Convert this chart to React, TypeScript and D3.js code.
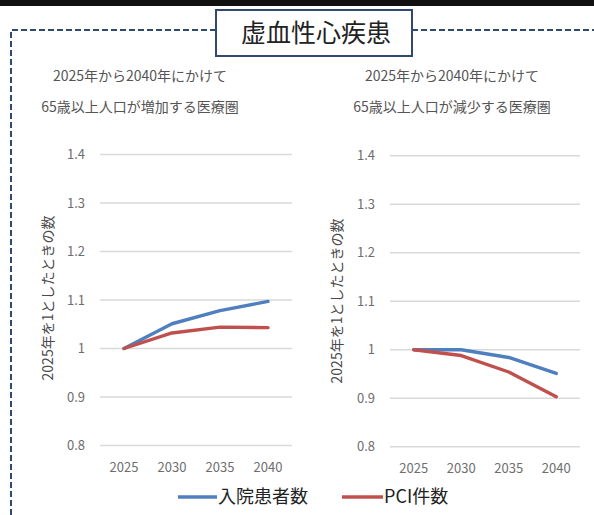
import React from "react";
import * as d3 from "d3";

const years = ["2025", "2030", "2035", "2040"];
const yTicks = [0.8, 0.9, 1.0, 1.1, 1.2, 1.3, 1.4];
const leftInpatients = [1.0, 1.051, 1.078, 1.097];
const leftPCI = [1.0, 1.032, 1.044, 1.043];
const rightInpatients = [1.0, 1.0, 0.984, 0.951];
const rightPCI = [1.0, 0.988, 0.954, 0.903];
const title = "虚血性心疾患";
const leftSubtitle = ["2025年から2040年にかけて", "65歳以上人口が増加する医療圏"];
const rightSubtitle = ["2025年から2040年にかけて", "65歳以上人口が減少する医療圏"];
const yAxisTitle = "2025年を1としたときの数";
const seriesNames = ["入院患者数", "PCI件数"];

const BLUE = "#4f7fbf";
const RED = "#c0504d";
const FONT = "'Noto Sans CJK JP', 'Noto Sans', sans-serif";

type PanelProps = {
  x0: number; x1: number; yTop: number; yBot: number;
  labelX: number; axisTitleX: number; axisTitleY: number; subCx: number;
  subtitle: string[]; a: number[]; b: number[];
};

function Panel({ x0, x1, yTop, yBot, labelX, axisTitleX, axisTitleY, subCx, subtitle, a, b }: PanelProps) {
  const x = d3.scaleBand<string>().domain(years).range([x0, x1]);
  const y = d3.scaleLinear().domain([0.8, 1.4]).range([yBot, yTop]);
  const line = d3
    .line<number>()
    .x((_, i) => (x(years[i]) as number) + x.bandwidth() / 2)
    .y((d) => y(d));
  return (
    <g>
      {subtitle.map((s, i) => (
        <text key={i} x={subCx} y={81 + i * 31} textAnchor="middle" fontSize={14} fill="#555" fontFamily={FONT}>
          {s}
        </text>
      ))}
      {yTicks.map((t) => (
        <g key={t}>
          <line x1={x0} x2={x1} y1={y(t)} y2={y(t)} stroke="#d9d9d9" strokeWidth={1.6} />
          <text x={labelX} y={y(t)} dy="0.35em" textAnchor="end" fontSize={13} fill="#6e6e6e" fontFamily={FONT}>
            {d3.format("")(+t.toFixed(1))}
          </text>
        </g>
      ))}
      {years.map((yr) => (
        <text key={yr} x={(x(yr) as number) + x.bandwidth() / 2} y={yBot + 22} dy="0.35em" textAnchor="middle" fontSize={13} fill="#6e6e6e" fontFamily={FONT}>
          {yr}
        </text>
      ))}
      <text transform={`translate(${axisTitleX},${axisTitleY}) rotate(-90)`} textAnchor="middle" dy="0.35em" fontSize={14} fill="#4a4a4a" fontFamily={FONT}>
        {yAxisTitle}
      </text>
      <path d={line(a) || ""} fill="none" stroke={BLUE} strokeWidth={3.4} strokeLinejoin="round" strokeLinecap="round" />
      <path d={line(b) || ""} fill="none" stroke={RED} strokeWidth={3.4} strokeLinejoin="round" strokeLinecap="round" />
    </g>
  );
}

export default function App() {
  return (
    <svg width={594} height={515} style={{ position: "absolute", left: 0, top: 0, background: "#fff" }}>
      <rect x={0} y={0} width={594} height={515} fill="#fff" />
      <rect x={0} y={0} width={594} height={6} fill="#111" />
      <path d="M11,515 L11,30 L216,30" fill="none" stroke="#2e4a70" strokeWidth={2} strokeDasharray="6,3" />
      <path d="M412,30 L594,30" fill="none" stroke="#2e4a70" strokeWidth={2} strokeDasharray="6,3" />
      <rect x={216} y={10} width={196} height={46} fill="#fff" stroke="#2e4a70" strokeWidth={2} />
      <text x={316} y={33} dy="0.35em" textAnchor="middle" fontSize={25} fill="#222" fontFamily={FONT}>
        {title}
      </text>
      <Panel x0={100} x1={292} yTop={154.5} yBot={445.5} labelX={85} axisTitleX={48} axisTitleY={298} subCx={140}
        subtitle={leftSubtitle} a={leftInpatients} b={leftPCI} />
      <Panel x0={390} x1={580} yTop={155.7} yBot={446.7} labelX={375} axisTitleX={337} axisTitleY={301} subCx={452}
        subtitle={rightSubtitle} a={rightInpatients} b={rightPCI} />
      <line x1={178} x2={217} y1={497} y2={497} stroke={BLUE} strokeWidth={3.5} />
      <text x={218} y={497} dy="0.35em" fontSize={18} fill="#222" fontFamily={FONT}>{seriesNames[0]}</text>
      <line x1={342} x2={383} y1={497} y2={497} stroke={RED} strokeWidth={3.5} />
      <text x={384} y={497} dy="0.35em" fontSize={18} fill="#222" fontFamily={FONT}>{seriesNames[1]}</text>
    </svg>
  );
}
